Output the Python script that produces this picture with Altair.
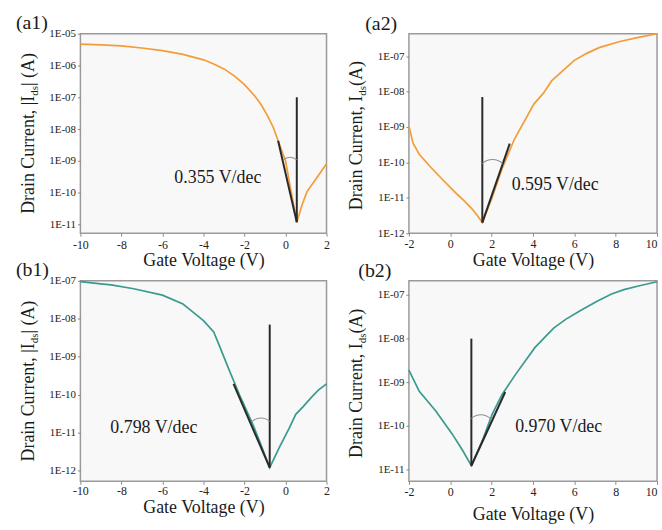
import math
import altair as alt
import pandas as pd

FONT = "Liberation Serif"
ORANGE = "#f39c38"
TEAL = "#389b8e"
INK = "#2a2a2a"

# ---- transfer curves: gate voltage (V) and drain current (A) ----
a1_vg = [-10, -9, -8, -7, -6, -5, -4, -3.5, -3, -2.5, -2, -1.5, -1.2, -0.9, -0.6,
         -0.3, 0, 0.25, 0.55, 0.8, 1.05, 1.5, 2]
a1_id = [4.68e-6, 4.47e-6, 4.17e-6, 3.55e-6, 2.95e-6, 2.24e-6, 1.51e-6, 1.12e-6,
         7.8e-7, 4.7e-7, 2.5e-7, 1.1e-7, 6.0e-8, 2.8e-8, 1.14e-8, 3.3e-9, 1.0e-9,
         1.3e-10, 1.17e-11, 4.0e-11, 1.07e-10, 2.75e-10, 8.1e-10]

a2_vg = [-2, -1.8, -1.5, -1.0, -0.4, 0.25, 0.7, 1.05, 1.3, 1.55, 2.0, 2.5, 3.1,
         4.05, 4.5, 4.9, 5.5, 6.0, 6.6, 7.2, 8.2, 9.1, 10]
a2_id = [1.05e-9, 3.5e-10, 1.7e-10, 7.9e-11, 3.4e-11, 1.4e-11, 7.9e-12, 4.9e-12,
         3.2e-12, 2.0e-12, 9.3e-12, 6.5e-11, 4.5e-10, 4.5e-9, 8.9e-9, 2.0e-8,
         4.2e-8, 7.6e-8, 1.2e-7, 1.74e-7, 2.6e-7, 3.4e-7, 4.3e-7]

b1_vg = [-10, -9, -8.5, -7.4, -6, -5, -4.75, -4, -3.5, -3.25, -2.8, -2.25, -1.6,
         -1.2, -0.77, -0.3, 0.2, 0.5, 0.85, 1.25, 1.6, 2]
b1_id = [9.5e-8, 8.3e-8, 7.8e-8, 6.2e-8, 4.2e-8, 2.45e-8, 1.9e-8, 8.9e-9, 4.5e-9,
         2.1e-9, 5.2e-10, 1.0e-10, 1.66e-11, 4.8e-12, 1.17e-12, 4.0e-12, 1.35e-11,
         3.0e-11, 4.7e-11, 8.3e-11, 1.3e-10, 1.9e-10]

b2_vg = [-2, -1.5, -0.7, 0.1, 0.6, 1.02, 1.55, 2.03, 2.5, 3.15, 4.1, 5.0, 5.6, 6.3,
         7.1, 7.8, 8.4, 9.15, 10]
b2_id = [1.9e-9, 6.2e-10, 2.2e-10, 6.5e-11, 2.75e-11, 1.23e-11, 4.6e-11, 1.86e-10,
         5.2e-10, 1.5e-9, 6.3e-9, 1.74e-8, 2.8e-8, 4.4e-8, 7.2e-8, 1.05e-7, 1.32e-7,
         1.62e-7, 2.0e-7]

# ---- subthreshold swing construction per panel ----
ss_vdec = [0.355, 0.595, 0.798, 0.970]
vertex_vg = [0.55, 1.55, -0.77, 1.02]
vertex_id = [1.17e-11, 2.0e-12, 1.17e-12, 1.23e-11]
vline_top = [1e-7, 7e-9, 7e-9, 1e-8]
tangent_top = [4.3e-9, 3.4e-10, 1.9e-10, 6e-10]
tangent_dir = [-1, 1, -1, 1]
arc_level = [1.3e-9, 1.2e-10, 2.4e-11, 1.8e-10]
arc_radius = [10, 15, 13, 14]
label_vg = [-5.42, 2.97, -8.54, 3.14]
label_id = [2.9e-10, 2.3e-11, 1.3e-11, 9.3e-11]

# ---- axes ----
x_domains = [[-10, 2], [-2, 10], [-10, 2], [-2, 10]]
x_ticks = [[-10, -8, -6, -4, -2, 0, 2], [-2, 0, 2, 4, 6, 8, 10],
           [-10, -8, -6, -4, -2, 0, 2], [-2, 0, 2, 4, 6, 8, 10]]
y_domains = [[5.25e-12, 1e-5], [1e-12, 4.3e-7], [5.1e-13, 1e-7], [5.4e-12, 2.1e-7]]
y_ticks = [[1e-11, 1e-10, 1e-9, 1e-8, 1e-7, 1e-6, 1e-5],
           [1e-12, 1e-11, 1e-10, 1e-9, 1e-8, 1e-7],
           [1e-12, 1e-11, 1e-10, 1e-9, 1e-8, 1e-7],
           [1e-11, 1e-10, 1e-9, 1e-8, 1e-7]]
panel_tags = ["(a1)", "(a2)", "(b1)", "(b2)"]
abs_bars = [True, False, True, False]
colors = [ORANGE, ORANGE, TEAL, TEAL]
widths = [248, 250, 248, 250]
heights = [201, 201, 202, 202]
tag_pos = [(-65, -5), (-44, -4), (-65, -5), (-51, -4)]
x_label_pad = [3, 2, 1, 2]
x_title_pad = [2, 3, 2, 8]

# Times-compatible advance widths (per 1000 em) for the y title glyphs
ADV = {"D": 722, "r": 333, "a": 444, "i": 278, "n": 500, " ": 250, "C": 667,
       "u": 500, "e": 444, "t": 278, ",": 250, "|": 200, "I": 333, "d": 500,
       "s": 389, "(": 333, "A": 722, ")": 333}


def text_width(s, size):
    return sum(ADV[c] for c in s) / 1000.0 * size


def one_text(txt, x, y, size, **kw):
    return alt.Chart(pd.DataFrame({"k": [0]})).mark_text(
        text=txt, font=FONT, fontSize=size, color="#1a1a1a", **kw
    ).encode(x=alt.value(x), y=alt.value(y))


def panel(i, vg, cur):
    xs = alt.Scale(domain=x_domains[i], nice=False, zero=False)
    ys = alt.Scale(type="log", domain=y_domains[i], nice=False)
    w, h = widths[i], heights[i]

    x_axis = alt.Axis(values=x_ticks[i], title="Gate Voltage (V)", grid=False,
                      domain=False, tickSize=3, tickColor="#8a8a8a",
                      labelExpr="'' + datum.value", labelFont=FONT,
                      labelFontSize=12, labelColor="#222",
                      labelPadding=x_label_pad[i],
                      labelAlign={"condition": {"test": "datum.value == 10",
                                                "value": "right"},
                                  "value": "center"},
                      labelFlush=False, labelOverlap=False, titleFont=FONT,
                      titleFontSize=18, titleFontWeight="normal",
                      titleColor="#1a1a1a", titlePadding=x_title_pad[i])
    y_axis = alt.Axis(values=y_ticks[i], title=None, grid=False, domain=False,
                      tickSize=3, tickColor="#8a8a8a",
                      labelExpr="'1E-' + (round(-log(datum.value)/LN10) < 10 ? '0' : '')"
                                " + round(-log(datum.value)/LN10)",
                      labelFont=FONT, labelFontSize=11, labelColor="#222",
                      labelPadding=2, labelOverlap=False)

    curve = alt.Chart(pd.DataFrame({"vg": vg, "id": cur})).mark_line(
        color=colors[i], strokeWidth=1.7
    ).encode(x=alt.X("vg:Q", scale=xs, axis=x_axis),
             y=alt.Y("id:Q", scale=ys, axis=y_axis))

    v0, i0 = vertex_vg[i], vertex_id[i]
    decades = math.log10(tangent_top[i] / i0)
    v_top = v0 + tangent_dir[i] * ss_vdec[i] * decades
    guide = pd.DataFrame({
        "seg": ["v", "v", "t", "t"],
        "vg": [v0, v0, v0, v_top],
        "id": [i0, vline_top[i], i0, tangent_top[i]],
    })
    lines = alt.Chart(guide).mark_line(color=INK, strokeWidth=2).encode(
        x=alt.X("vg:Q", scale=xs), y=alt.Y("id:Q", scale=ys), detail="seg:N")

    r = arc_radius[i]
    half = 0.75
    arc = alt.Chart(pd.DataFrame({"vg": [v0], "id": [arc_level[i]]})).mark_arc(
        theta=2 * math.pi - half, theta2=2 * math.pi + half,
        outerRadius=r + 0.5, innerRadius=r - 0.5, color="#8f8f8f",
        xOffset=tangent_dir[i] * r * math.sin(half), yOffset=r
    ).encode(x=alt.X("vg:Q", scale=xs), y=alt.Y("id:Q", scale=ys))

    label = alt.Chart(pd.DataFrame({"vg": [label_vg[i]], "id": [label_id[i]],
                                    "t": [f"{ss_vdec[i]:.3f} V/dec"]})).mark_text(
        font=FONT, fontSize=18, align="left", baseline="middle", color="#1a1a1a"
    ).encode(x=alt.X("vg:Q", scale=xs), y=alt.Y("id:Q", scale=ys), text="t:N")

    # rotated y title with subscript
    bar = "|" if abs_bars[i] else ""
    p1 = f"Drain Current, {bar}I"
    p2 = "ds"
    p3 = f"{bar} (A)"
    w1, w2, w3 = text_width(p1, 18), text_width(p2, 11), text_width(p3, 18)
    y0 = h / 2 + (w1 + w2 + w3) / 2
    base_x = -47
    t1 = one_text(p1, base_x, y0, 18, angle=270, align="left", baseline="alphabetic")
    t2 = one_text(p2, base_x + 4, y0 - w1, 11, angle=270, align="left", baseline="alphabetic")
    t3 = one_text(p3, base_x, y0 - w1 - w2, 18, angle=270, align="left", baseline="alphabetic")

    tx, ty = tag_pos[i]
    tag = one_text(panel_tags[i], tx, ty, 20, align="left", baseline="alphabetic")

    return alt.layer(curve, lines, arc, label, t1, t2, t3, tag).properties(
        width=w, height=h)


panels = [panel(0, a1_vg, a1_id), panel(1, a2_vg, a2_id),
          panel(2, b1_vg, b1_id), panel(3, b2_vg, b2_id)]

chart = alt.concat(*panels, columns=2, spacing={"row": 48, "column": 83},
                   bounds="flush").properties(
    padding={"left": 15, "top": 10, "right": 0, "bottom": 0},
    background="white",
).configure_view(stroke="#9a9a9a", strokeWidth=1.5, fill="#f8f8f8")

chart.save("out.html", embed_options={"renderer": "svg", "actions": False})
